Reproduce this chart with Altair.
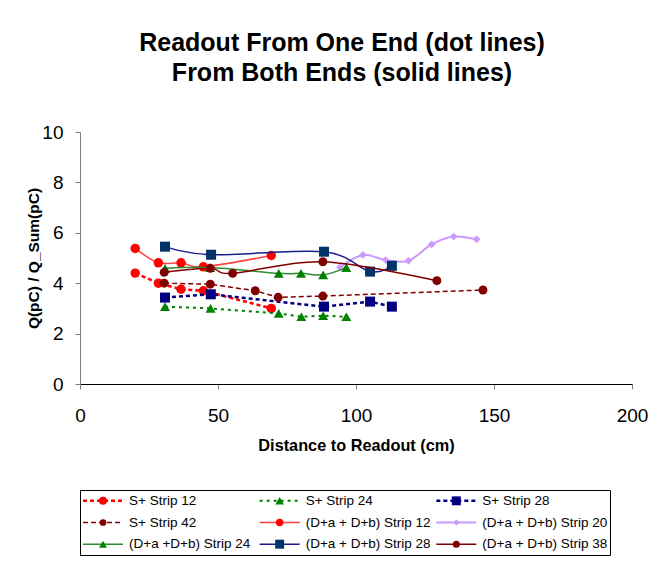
import altair as alt
import pandas as pd

FONT = "Liberation Sans"

# ---------------- data ----------------
series_names = [
    "S+ Strip 12", "S+ Strip 24", "S+ Strip 28",
    "S+ Strip 42", "(D+a + D+b) Strip 12", "(D+a + D+b) Strip 20",
    "(D+a +D+b) Strip 24", "(D+a + D+b) Strip 28", "(D+a + D+b) Strip 38",
]

s12_x = [20.0, 28.4, 36.6, 44.7, 69.3]
s12_y = [4.40, 4.00, 3.76, 3.70, 3.00]
s24_x = [30.8, 47.3, 72.0, 80.2, 88.1, 96.5]
s24_y = [3.07, 3.00, 2.80, 2.67, 2.71, 2.67]
s28_x = [30.8, 47.4, 88.4, 105.1, 113.0]
s28_y = [3.43, 3.56, 3.07, 3.27, 3.07]
s42_x = [30.5, 47.2, 63.5, 71.8, 88.0, 146.0]
s42_y = [4.00, 3.96, 3.70, 3.44, 3.49, 3.73]
d12_x = [20.0, 28.4, 36.6, 44.7, 69.3]
d12_y = [5.38, 4.81, 4.81, 4.65, 5.10]
d20_x = [94.2, 102.5, 110.8, 119.0, 127.4, 135.4, 143.7]
d20_y = [4.63, 5.12, 4.92, 4.89, 5.54, 5.85, 5.74]
d24_x = [30.8, 47.2, 72.0, 80.1, 88.1, 96.5]
d24_y = [4.59, 4.62, 4.39, 4.39, 4.33, 4.62]
d28_x = [30.8, 47.5, 88.4, 105.1, 113.0]
d28_y = [5.45, 5.13, 5.25, 4.46, 4.69]
d38_x = [30.5, 47.2, 55.3, 88.0, 129.3]
d38_y = [4.43, 4.59, 4.39, 4.85, 4.10]

x_ticks = [0, 50, 100, 150, 200]
y_ticks = [0, 2, 4, 6, 8, 10]

legend_col = [0, 1, 2, 0, 1, 2, 0, 1, 2]
legend_row = [0, 0, 0, 1, 1, 1, 2, 2, 2]

title_lines = ["Readout From One End (dot lines)", "From Both Ends (solid lines)"]

# ---------------- styles ----------------
styles = [
    dict(stroke="#FF0000", dash=[4, 3], width=2.5, interp="linear", shape="circle", fill="#FF0000", size=90, lsize=64),
    dict(stroke="#008000", dash=[3, 4], width=2.0, interp="linear", shape="triangle-up", fill="#008000", size=100, lsize=75),
    dict(stroke="#000080", dash=[4, 3], width=2.5, interp="linear", shape="square", fill="#000080", size=100, lsize=80),
    dict(stroke="#800000", dash=[5, 3], width=1.5, interp="linear", shape="circle", fill="#800000", size=80, lsize=45),
    dict(stroke="#FF4040", dash=None, width=1.5, interp="cardinal", shape="circle", fill="#FF0000", size=90, lsize=55),
    dict(stroke="#CC99FF", dash=None, width=2.0, interp="cardinal", shape="diamond", fill="#CC99FF", size=60, lsize=40),
    dict(stroke="#2E8B2E", dash=None, width=1.5, interp="cardinal", shape="triangle-up", fill="#008000", size=100, lsize=64),
    dict(stroke="#1A1A8C", dash=None, width=1.5, interp="cardinal", shape="square", fill="#003366", size=100, lsize=80),
    dict(stroke="#800000", dash=None, width=1.5, interp="cardinal", shape="circle", fill="#800000", size=80, lsize=50),
]

xs = [s12_x, s24_x, s28_x, s42_x, d12_x, d20_x, d24_x, d28_x, d38_x]
ys = [s12_y, s24_y, s28_y, s42_y, d12_y, d20_y, d24_y, d28_y, d38_y]

records = []
for name, xv, yv in zip(series_names, xs, ys):
    for a, b in zip(xv, yv):
        records.append({"series": name, "x": a, "y": b})
df = pd.DataFrame(records)

leg_df = pd.DataFrame({"series": series_names, "col": legend_col, "row": legend_row})

# ---------------- main plot ----------------
x_enc = alt.X("x:Q", scale=alt.Scale(domain=[0, 200], nice=False),
              axis=alt.Axis(values=x_ticks, title="Distance to Readout (cm)", grid=False,
                            labelFontSize=19, labelFont=FONT, labelPadding=17, labelColor="black",
                            labelFlush=False,
                            tickSize=5, tickColor="#808080", domainColor="black",
                            titleFont=FONT, titleFontSize=16.3, titleFontWeight="bold",
                            titlePadding=12, titleColor="black"))
y_enc = alt.Y("y:Q", scale=alt.Scale(domain=[0, 10], nice=False),
              axis=alt.Axis(values=y_ticks, title="Q(pC) / Q_Sum(pC)", grid=False,
                            labelFontSize=19, labelFont=FONT, labelPadding=12, labelColor="black",
                            tickSize=5, tickColor="#808080", domainColor="#808080",
                            titleFont=FONT, titleFontSize=15.5, titleFontWeight="bold",
                            titlePadding=0, titleColor="black"))

base = alt.Chart(df)
layers = []
for name, st in zip(series_names, styles):
    f = base.transform_filter(alt.datum.series == name)
    line_kwargs = dict(color=st["stroke"], strokeWidth=st["width"], interpolate=st["interp"])
    if st["dash"]:
        line_kwargs["strokeDash"] = st["dash"]
    layers.append(f.mark_line(**line_kwargs).encode(x=x_enc, y=y_enc))
    layers.append(f.mark_point(shape=st["shape"], filled=True, color=st["fill"], size=st["size"],
                               opacity=1).encode(x=x_enc, y=y_enc))

top = alt.layer(*layers).properties(
    width=552, height=252,
    view=alt.ViewBackground(stroke=None),
    title=alt.TitleParams(text=title_lines, font=FONT, fontSize=25, fontWeight="bold",
                          color="black", lineHeight=30, anchor="middle", dx=-14, offset=37),
)

# ---------------- legend ----------------
lx = alt.X("col:Q", scale=alt.Scale(domain=[0, 3], nice=False), axis=None)
lx2 = alt.X2("col")
ly = alt.Y("row:O", scale=alt.Scale(type="point", padding=0.5), axis=None)
lbase = alt.Chart(leg_df)
leg_layers = []
for name, st in zip(series_names, styles):
    f = lbase.transform_filter(alt.datum.series == name)
    rule_kwargs = dict(color=st["stroke"], strokeWidth=st["width"], xOffset=3, x2Offset=43)
    if st["dash"]:
        rule_kwargs["strokeDash"] = st["dash"]
    leg_layers.append(f.mark_rule(**rule_kwargs).encode(x=lx, x2=lx2, y=ly))
    leg_layers.append(f.mark_point(shape=st["shape"], filled=True, color=st["fill"], size=st["lsize"],
                                   opacity=1, xOffset=23).encode(x=lx, y=ly))
    leg_layers.append(f.mark_text(align="left", baseline="middle", dx=49, font=FONT, fontSize=13.5,
                                  color="black").encode(x=lx, y=ly, text="series:N"))

legend = alt.layer(*leg_layers).properties(
    width=530, height=65,
    view=alt.ViewBackground(stroke="black", strokeWidth=1),
)

chart = alt.vconcat(top, legend, spacing=35).properties(
    padding={"left": 18, "top": 23, "right": 0, "bottom": 0},
    background="white",
).configure(font=FONT)

chart.save("out.html", embed_options={"renderer": "svg", "actions": False})
